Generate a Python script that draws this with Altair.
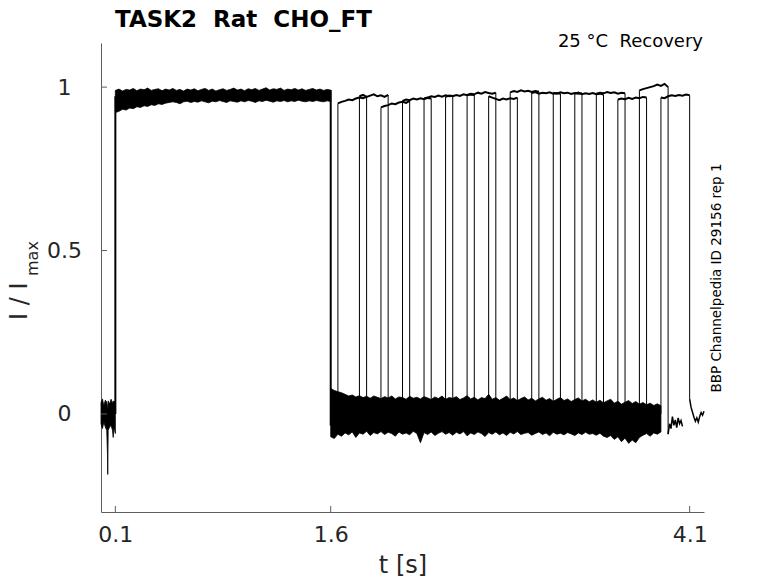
import altair as alt
import pandas as pd

# ---------------- values ----------------
X_TICKS = [0.1, 1.6, 4.1]
Y_TICKS = [0, 0.5, 1]
X_DOMAIN = [0, 4.2]
Y_DOMAIN = [-0.3, 1.135]

TITLE = "TASK2 \u00a0Rat \u00a0CHO_FT"
CORNER = "25 \u00b0C \u00a0Recovery"
SIDE = "BBP Channelpedia ID 29156 rep 1"
XTITLE = "t [s]"
YTITLE_MAIN = "I / I"
YTITLE_SUB = "max"

PULSE1_ON = 0.1
PULSE1_OFF = 1.6

# holding before pulse 1 (envelope of all sweeps)
BASE_T = [0.0, 0.01, 0.02, 0.03, 0.04, 0.045, 0.047, 0.05, 0.06, 0.07, 0.08, 0.085, 0.09, 0.1]
BASE_HI = [0.035, 0.046, 0.025, 0.042, 0.036, 0.022, 0.012, 0.040, 0.030, 0.045, 0.032, 0.040, 0.036, 0.040]
BASE_LO = [-0.030, -0.045, -0.025, -0.040, -0.050, -0.120, -0.185, -0.050, -0.040, -0.035, -0.050, -0.072, -0.040, -0.060]

# pulse 1 envelope (0.1 .. 1.6 s every 0.025 s)
P1_STEP = 0.025
P1_HI = [0.990, 0.994, 0.988, 0.993, 0.991, 0.996, 0.989, 0.994, 0.992, 0.997,
         0.990, 0.993, 0.995, 0.989, 0.994, 0.991, 0.996, 0.990, 0.993, 0.988,
         0.994, 0.991, 0.995, 0.989, 0.993, 0.996, 0.990, 0.994, 0.988, 0.992,
         0.995, 0.990, 0.993, 0.997, 0.991, 0.994, 0.989, 0.995, 0.992, 0.996,
         0.990, 0.994, 0.998, 0.991, 0.995, 0.993, 0.997, 0.990, 0.994, 0.992,
         0.996, 0.991, 0.995, 0.990, 0.993, 0.996, 0.991, 0.994, 0.990, 0.993,
         0.991]
P1_LO = [0.922, 0.926, 0.932, 0.930, 0.936, 0.934, 0.940, 0.938, 0.943, 0.941,
         0.946, 0.944, 0.949, 0.947, 0.951, 0.953, 0.955, 0.953, 0.949, 0.955,
         0.957, 0.953, 0.956, 0.954, 0.958, 0.955, 0.952, 0.957, 0.955, 0.959,
         0.956, 0.953, 0.958, 0.956, 0.954, 0.958, 0.955, 0.959, 0.957, 0.953,
         0.958, 0.956, 0.960, 0.957, 0.954, 0.958, 0.956, 0.959, 0.955, 0.958,
         0.956, 0.960, 0.957, 0.955, 0.958, 0.956, 0.959, 0.957, 0.955, 0.958,
         0.956]

# holding after pulse 1 (1.6 .. 3.9 s every 0.025 s)
LOW_STEP = 0.025
LOW_HI = [0.078, 0.072, 0.068, 0.065, 0.060,
          0.055, 0.058, 0.052, 0.056, 0.050, 0.054, 0.048, 0.055, 0.051, 0.047,
          0.053, 0.049, 0.055, 0.046, 0.052, 0.050, 0.045, 0.054, 0.048, 0.051,
          0.046, 0.053, 0.049, 0.044, 0.052, 0.047, 0.055, 0.045, 0.050, 0.048,
          0.053, 0.044, 0.049, 0.056, 0.046, 0.051, 0.043, 0.050, 0.047, 0.060,
          0.045, 0.050, 0.042, 0.048, 0.055, 0.044, 0.049, 0.041, 0.047, 0.052,
          0.043, 0.048, 0.040, 0.046, 0.051, 0.042, 0.047, 0.039, 0.045, 0.050,
          0.041, 0.046, 0.038, 0.044, 0.049, 0.040, 0.045, 0.037, 0.043, 0.036,
          0.042, 0.034, 0.040, 0.045, 0.033, 0.039, 0.030, 0.036, 0.041, 0.032,
          0.038, 0.030, 0.035, 0.028, 0.033, 0.026, 0.031, 0.025]
LOW_LO = [-0.070, -0.075, -0.062, -0.068, -0.058,
          -0.064, -0.055, -0.072, -0.058, -0.062, -0.053, -0.066, -0.057, -0.061, -0.054,
          -0.063, -0.056, -0.060, -0.068, -0.055, -0.062, -0.058, -0.064, -0.053, -0.060,
          -0.088, -0.057, -0.063, -0.055, -0.066, -0.059, -0.054, -0.062, -0.057, -0.065,
          -0.056, -0.061, -0.054, -0.067, -0.058, -0.063, -0.055, -0.060, -0.069, -0.057,
          -0.062, -0.055, -0.064, -0.058, -0.066, -0.056, -0.061, -0.054, -0.063, -0.059,
          -0.057, -0.065, -0.060, -0.055, -0.063, -0.058, -0.067, -0.056, -0.062, -0.059,
          -0.064, -0.057, -0.061, -0.066, -0.058, -0.063, -0.056, -0.062, -0.060, -0.065,
          -0.059, -0.068, -0.072, -0.066, -0.078, -0.070, -0.085, -0.074, -0.090, -0.080,
          -0.088, -0.072, -0.065, -0.060, -0.068, -0.058, -0.062, -0.055]

# second (test) pulse of each sweep
P2_START = [1.65, 1.80, 1.95, 2.10, 2.25, 2.40, 2.55, 2.70,
            2.85, 3.00, 3.15, 3.30, 3.45, 3.60, 3.75, 3.90]
P2_DUR = 0.2
P2_STEP = 0.025
P2_LEVELS = [
    [0.950, 0.955, 0.958, 0.962, 0.960, 0.965, 0.968, 0.966, 0.970],
    [0.972, 0.976, 0.970, 0.974, 0.978, 0.972, 0.975, 0.970, 0.976],
    [0.938, 0.942, 0.945, 0.950, 0.948, 0.953, 0.955, 0.952, 0.958],
    [0.958, 0.962, 0.960, 0.965, 0.962, 0.966, 0.963, 0.967, 0.965],
    [0.965, 0.968, 0.972, 0.970, 0.974, 0.971, 0.975, 0.972, 0.974],
    [0.970, 0.974, 0.972, 0.976, 0.973, 0.978, 0.975, 0.977, 0.976],
    [0.976, 0.980, 0.978, 0.983, 0.980, 0.985, 0.982, 0.980, 0.983],
    [0.972, 0.968, 0.964, 0.960, 0.965, 0.962, 0.966, 0.964, 0.968],
    [0.984, 0.988, 0.985, 0.990, 0.987, 0.989, 0.985, 0.988, 0.986],
    [0.982, 0.985, 0.980, 0.983, 0.981, 0.984, 0.980, 0.982, 0.980],
    [0.983, 0.980, 0.984, 0.981, 0.983, 0.979, 0.982, 0.980, 0.981],
    [0.980, 0.983, 0.978, 0.981, 0.979, 0.982, 0.978, 0.980, 0.977],
    [0.980, 0.983, 0.981, 0.985, 0.982, 0.984, 0.980, 0.983, 0.981],
    [0.962, 0.965, 0.963, 0.967, 0.964, 0.968, 0.966, 0.970, 0.968],
    [0.990, 0.994, 0.997, 1.000, 1.003, 1.008, 1.004, 1.010, 1.000],
    [0.968, 0.966, 0.972, 0.975, 0.973, 0.976, 0.974, 0.977, 0.975],
]

# visible holding tails after the last two test pulses (every 0.01 s)
TAIL_STEP = 0.01
TAILS = {
    14: [-0.062, -0.030, -0.045, -0.008, -0.035, -0.018, -0.042, -0.012, -0.030, -0.020, -0.038],
    15: [0.045, 0.020, 0.005, -0.010, -0.022, -0.012, -0.025, -0.008, 0.004, -0.004, 0.008],
}

# ---------------- tables ----------------
band_rows = []
for t, lo, hi in zip(BASE_T, BASE_LO, BASE_HI):
    band_rows.append({"seg": "base", "t": t, "lo": lo, "hi": hi})
for k, (lo, hi) in enumerate(zip(P1_LO, P1_HI)):
    band_rows.append({"seg": "p1", "t": round(PULSE1_ON + k * P1_STEP, 4), "lo": lo, "hi": hi})
for k, (lo, hi) in enumerate(zip(LOW_LO, LOW_HI)):
    band_rows.append({"seg": "low", "t": round(PULSE1_OFF + k * LOW_STEP, 4), "lo": lo, "hi": hi})
band_df = pd.DataFrame(band_rows)

p2_rows, edge_rows, tail_rows = [], [], []
for i, (a, lev) in enumerate(zip(P2_START, P2_LEVELS)):
    for j, v in enumerate(lev):
        p2_rows.append({"sweep": i, "t": round(a + j * P2_STEP, 4), "v": v})
    end = round(a + P2_DUR, 4)
    edge_rows.append({"t": a, "y1": 0.0, "y2": lev[0]})
    low_end = TAILS[i][0] if i in TAILS else 0.0
    edge_rows.append({"t": end, "y1": lev[-1], "y2": low_end})
    if i in TAILS:
        for j, v in enumerate(TAILS[i]):
            tail_rows.append({"sweep": i, "t": round(end + j * TAIL_STEP, 4), "v": v})
p2_df = pd.DataFrame(p2_rows)
edge_df = pd.DataFrame(edge_rows)
tail_df = pd.DataFrame(tail_rows)

main_edge_df = pd.DataFrame({
    "t": [PULSE1_ON, PULSE1_OFF],
    "y1": [BASE_HI[-1] - 0.04, P1_HI[-1]],
    "y2": [P1_LO[0] + 0.05, LOW_LO[0] + 0.035],
})

FONT = "DejaVu Sans"
W, H = 603, 469
xs = alt.Scale(domain=X_DOMAIN, nice=False, zero=False)
ys = alt.Scale(domain=Y_DOMAIN, nice=False, zero=False)

x_axis = alt.Axis(values=X_TICKS, format=".1f", ticks=False, tickSize=0, grid=False,
                  domainColor="#5e5e5e", domainWidth=1, labelFont=FONT, labelFontSize=22,
                  labelColor="#262626", labelPadding=29, labelBaseline="alphabetic",
                  labelFlush=False, labelOverlap=False, title="")
y_axis = alt.Axis(values=Y_TICKS, format="~g", ticks=False, tickSize=0, grid=False,
                  domainColor="#5e5e5e", domainWidth=1, labelFont=FONT, labelFontSize=22,
                  labelColor="#262626", labelPadding=37, labelAlign="center",
                  labelBaseline="middle", labelOverlap=False, title="")

bands = alt.Chart(band_df).mark_area(color="black", stroke="black", strokeWidth=0.8,
                                     interpolate="linear").encode(
    x=alt.X("t:Q", scale=xs, axis=x_axis),
    y=alt.Y("lo:Q", scale=ys, axis=y_axis),
    y2="hi:Q",
    detail="seg:N",
)

edges = alt.Chart(edge_df).mark_rule(color="black", strokeWidth=1).encode(
    x=alt.X("t:Q", scale=xs, axis=x_axis),
    y=alt.Y("y1:Q", scale=ys, axis=y_axis),
    y2="y2:Q",
)

main_edges = alt.Chart(main_edge_df).mark_rule(color="black", strokeWidth=2).encode(
    x=alt.X("t:Q", scale=xs, axis=x_axis),
    y=alt.Y("y1:Q", scale=ys, axis=y_axis),
    y2="y2:Q",
)

p2_lines = alt.Chart(p2_df).mark_line(color="black", strokeWidth=2).encode(
    x=alt.X("t:Q", scale=xs, axis=x_axis),
    y=alt.Y("v:Q", scale=ys, axis=y_axis),
    detail="sweep:N",
)

tail_lines = alt.Chart(tail_df).mark_line(color="black", strokeWidth=1.5).encode(
    x=alt.X("t:Q", scale=xs, axis=x_axis),
    y=alt.Y("v:Q", scale=ys, axis=y_axis),
    detail="sweep:N",
)

x_ticks = alt.Chart(pd.DataFrame({"t": X_TICKS})).mark_rule(color="#5e5e5e", strokeWidth=1).encode(
    x=alt.X("t:Q", scale=xs, axis=x_axis),
    y=alt.value(H),
    y2=alt.value(H - 6),
)
y_ticks = alt.Chart(pd.DataFrame({"v": Y_TICKS})).mark_rule(color="#5e5e5e", strokeWidth=1).encode(
    y=alt.Y("v:Q", scale=ys, axis=y_axis),
    x=alt.value(0),
    x2=alt.value(6),
)


def label(txt, x, y, size, **kw):
    return alt.Chart(pd.DataFrame({"s": [txt]})).mark_text(font=FONT, fontSize=size, **kw).encode(
        x=alt.value(x), y=alt.value(y), text="s:N")


texts = [
    label(TITLE, 14, -16, 23, fontWeight="bold", align="left", baseline="alphabetic", color="black"),
    label(CORNER, 602, 3.5, 18, align="right", baseline="alphabetic", color="black"),
    label(SIDE, 616, 235, 13.5, angle=270, align="center", baseline="middle", color="black"),
    label(XTITLE, 302, 530, 24, align="center", baseline="alphabetic", color="#262626"),
    label(YTITLE_MAIN, -74, 277, 24, angle=270, align="left", baseline="alphabetic", color="#262626"),
    label(YTITLE_SUB, -63, 233, 16, angle=270, align="left", baseline="alphabetic", color="#262626"),
]

chart = alt.layer(bands, main_edges, edges, p2_lines, tail_lines, x_ticks, y_ticks, *texts).properties(
    width=W, height=H,
    autosize=alt.AutoSizeParams(type="none"),
    padding={"left": 93, "top": 35, "right": 60, "bottom": 72},
).configure_view(strokeOpacity=0)

chart.save("out.html", embed_options={"renderer": "svg", "actions": False})
